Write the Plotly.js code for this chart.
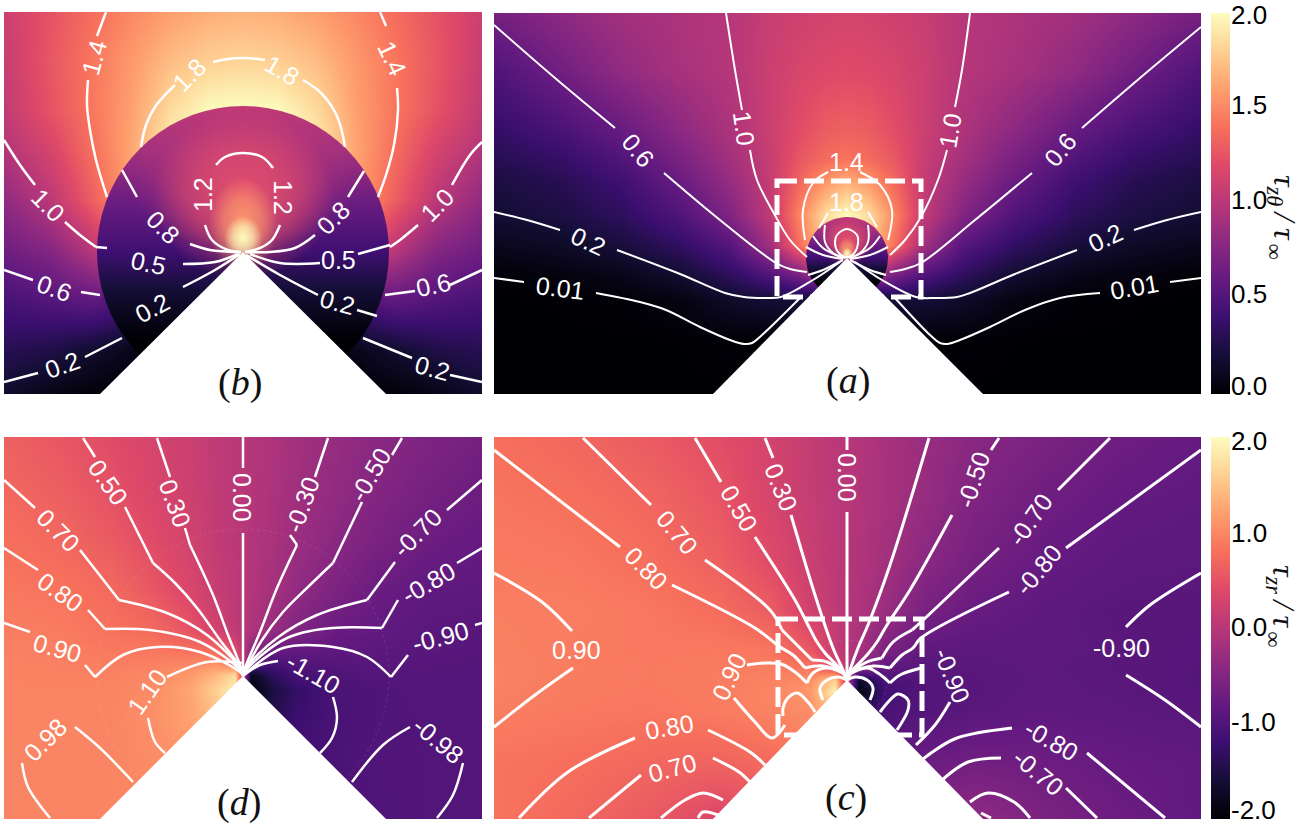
<!DOCTYPE html>
<html><head><meta charset="utf-8">
<script src="https://cdn.plot.ly/plotly-3.0.1.min.js"></script>
<style>html,body{margin:0;padding:0;background:#fff}#chart{width:1304px;height:826px}</style>
</head><body><div id="chart"></div>
<script>
/* ---------- values (positions are in reference-image coordinates) ---------- */
const magma=[[0,'#000004'],[.1,'#140e36'],[.2,'#3b0f70'],[.3,'#641a80'],[.4,'#8c2981'],[.5,'#b73779'],[.6,'#de4968'],[.7,'#f7705c'],[.8,'#fe9f6d'],[.9,'#fecf92'],[1,'#fcfdbf']];

/* panel (a) tau_z-theta field */
const aX=[494,560,620,680,730,770,800,825,847,869,894,924,964,1014,1074,1134,1201];
const aY=[13,70,130,160,180,215,245,275,300,340,394];
const aZ=[
[.68,.80,.90,.95,1.00,1.08,1.12,1.14,1.15,1.14,1.12,1.08,1.00,.95,.90,.80,.68],
[.50,.66,.82,.93,.99,1.10,1.16,1.19,1.20,1.19,1.16,1.10,.99,.93,.82,.66,.50],
[.36,.47,.61,.80,.95,1.10,1.22,1.30,1.33,1.30,1.22,1.10,.95,.80,.61,.47,.36],
[.29,.36,.50,.70,.90,1.08,1.28,1.38,1.42,1.38,1.28,1.08,.90,.70,.50,.36,.29],
[.24,.30,.42,.63,.85,1.07,1.35,1.55,1.65,1.55,1.35,1.07,.85,.63,.42,.30,.24],
[.19,.24,.33,.50,.74,1.05,1.50,1.85,2.00,1.85,1.50,1.05,.74,.50,.33,.24,.19],
[.10,.14,.22,.35,.53,.90,1.40,1.80,2.00,1.80,1.40,.90,.53,.35,.22,.14,.10],
[.01,.04,.08,.18,.33,.50,.70,1.00,2.00,1.00,.70,.50,.33,.18,.08,.04,.01],
[0,.003,.01,.05,.15,.20,.20,0,0,0,.20,.20,.15,.05,.01,.003,0],
[0,0,0,.002,.01,0,0,0,0,0,0,0,.01,.002,0,0,0],
[0,0,0,0,0,0,0,0,0,0,0,0,0,0,0,0,0]];

/* panel (b) enlarged tau_z-theta field */
const bX=[4,50,90,130,170,210,243,276,316,356,396,436,482];
const bY=[12,60,110,150,200,250,300,350,394];
const bZ=[
[1.10,1.25,1.38,1.50,1.60,1.66,1.68,1.66,1.60,1.50,1.38,1.25,1.10],
[1.08,1.27,1.42,1.57,1.72,1.80,1.82,1.80,1.72,1.57,1.42,1.27,1.08],
[1.05,1.25,1.42,1.60,1.85,2.00,2.00,2.00,1.85,1.60,1.42,1.25,1.05],
[.98,1.15,1.38,1.62,1.95,2.00,2.00,2.00,1.95,1.62,1.38,1.15,.98],
[.82,1.02,1.30,1.60,1.90,2.00,2.00,2.00,1.90,1.60,1.30,1.02,.82],
[.65,.76,1.00,1.30,1.50,1.60,1.60,1.60,1.50,1.30,1.00,.76,.65],
[.46,.52,.58,.50,.40,.30,.20,.30,.40,.50,.58,.52,.46],
[.30,.26,.18,.08,.02,0,0,0,.02,.08,.18,.26,.30],
[.17,.07,.02,0,0,0,0,0,0,0,.02,.07,.17]];

/* panel (c) tau_zr field */
const cX=[494,570,650,720,770,810,835,847,859,884,924,974,1044,1124,1201];
const cY=[437,500,560,610,650,668,680,692,710,760,819];
const cZ=[
[.79,.71,.58,.44,.28,.13,.04,0,-.04,-.13,-.28,-.44,-.58,-.71,-.79],
[.84,.80,.70,.53,.31,.14,.05,0,-.05,-.14,-.31,-.53,-.70,-.80,-.84],
[.885,.86,.78,.63,.41,.18,.06,0,-.06,-.18,-.41,-.63,-.78,-.86,-.885],
[.92,.92,.86,.76,.60,.25,.08,0,-.08,-.25,-.60,-.76,-.86,-.92,-.92],
[.94,.90,.87,.88,.85,.55,.15,0,-.15,-.55,-.85,-.88,-.87,-.90,-.94],
[.945,.91,.88,.90,.92,.85,.40,0,-.40,-.85,-.92,-.90,-.88,-.91,-.945],
[.95,.90,.88,.91,.96,1.05,1.60,0,-1.70,-1.05,-.96,-.91,-.88,-.90,-.95],
[.94,.90,.87,.91,.97,1.15,1.90,0,-1.95,-1.15,-.97,-.91,-.87,-.90,-.94],
[.92,.88,.85,.90,.97,1.05,1.50,0,-1.50,-1.05,-.97,-.90,-.85,-.88,-.92],
[.83,.79,.72,.68,.75,.90,.90,0,-.90,-.90,-.75,-.68,-.72,-.79,-.83],
[.83,.73,.57,.35,.50,.70,.70,0,-.70,-.70,-.50,-.35,-.57,-.73,-.83]];

/* panel (d) enlarged tau_zr field */
const dX=[4,60,110,150,190,215,235,243,251,271,296,336,376,426,482];
const dY=[437,490,540,590,630,660,675,690,720,760,819];
const dZ=[
[.64,.54,.42,.31,.19,.09,.03,0,-.03,-.09,-.19,-.31,-.42,-.54,-.64],
[.72,.62,.49,.35,.21,.10,.03,0,-.03,-.10,-.21,-.35,-.49,-.62,-.72],
[.79,.72,.58,.43,.26,.12,.04,0,-.04,-.12,-.26,-.43,-.58,-.72,-.79],
[.86,.83,.74,.56,.34,.16,.05,0,-.05,-.16,-.34,-.56,-.74,-.83,-.86],
[.92,.90,.81,.75,.50,.27,.08,0,-.08,-.27,-.50,-.75,-.81,-.90,-.92],
[.95,.93,.91,.92,.95,1.00,.55,0,-.55,-1.00,-.95,-.92,-.91,-.93,-.95],
[.96,.95,.95,1.00,1.15,1.40,1.70,0,-1.80,-1.36,-1.10,-1.02,-.95,-.95,-.96],
[.96,.96,.97,1.03,1.25,1.60,1.90,0,-1.95,-1.56,-1.28,-1.06,-1.00,-.96,-.96],
[.97,.975,.98,1.06,1.22,1.40,1.50,0,-1.60,-1.40,-1.20,-1.06,-1.00,-.975,-.97],
[.98,.98,.98,1.03,1.10,1.20,1.20,0,-1.20,-1.20,-1.10,-1.05,-.985,-.98,-.98],
[.98,.98,.98,1.00,1.00,1.00,1.00,0,-1.00,-1.00,-1.00,-1.00,-1.00,-.98,-.98]];

/* contour polylines, one sub-list per unbroken stretch */
const aLines=[
[[726,13],[735,70],[742,110]],[[750,150],[757,180],[776,217],[790,240],[807,257]],
[[970,13],[962,70],[955,107]],[[947,150],[938,180],[921,217],[905,240],[890,255]],
[[494,25],[555,78],[615,128]],[[664,173],[720,220],[776,263],[790,269],[807,272]],
[[1201,27],[1140,78],[1082,128]],[[1032,173],[975,220],[921,263],[905,269],[890,272]],
[[494,212],[527,220],[560,230]],[[617,250],[680,274],[725,293],[744,297],[765,298],[781,297],[813,280],[840,262]],
[[1201,212],[1167,220],[1134,230]],[[1077,250],[1015,274],[970,293],[957,297],[935,298],[916,297],[882,280],[855,262]],
[[494,278],[524,282]],[[596,293],[640,302],[666,310],[700,327],[730,340],[744,344],[752,343],[762,335],[800,298]],
[[1201,278],[1170,282]],[[1100,293],[1060,298],[1025,310],[990,327],[960,340],[947,344],[940,343],[930,335],[895,298]],
[[805,240],[803,210],[813,183],[828,172]],[[860,172],[880,185],[892,210],[888,240]],
[[819,228],[828,213]],[[868,212],[877,227]],
[[847,257],[838,252],[835,243],[837,235],[847,229],[857,235],[858,243],[855,252],[847,257]],
[[825,225],[825,242],[833,253],[845,258]],[[868,225],[868,242],[860,253],[849,258]],
[[813,236],[823,248],[843,258]],[[880,236],[870,248],[850,258]],
[[806,247],[823,255],[843,259]],[[888,247],[870,255],[850,259]],
[[808,275],[823,270],[843,260]],[[886,275],[870,270],[850,260]]];
const bLines=[
[[106,12],[97,36]],[[88,80],[87,105],[90,130],[96,160],[107,197]],
[[380,12],[386,26]],[[397,88],[398,110],[394,145],[386,175],[378,197]],
[[141,147],[146,125],[155,107],[165,95],[175,85]],[[213,62],[228,59],[243,58],[258,59],[265,60]],[[303,80],[320,92],[335,112],[341,128],[345,147]],
[[4,140],[20,165],[35,185]],[[65,222],[80,235],[96,247]],
[[482,142],[470,155],[452,185]],[[418,225],[400,240],[390,247]],
[[4,270],[33,280]],[[81,292],[100,295]],[[385,295],[415,291]],[[450,285],[482,270]],
[[4,382],[38,373]],[[85,357],[122,338]],[[363,338],[412,358]],[[450,375],[482,382]],
[[122,170],[137,197]],[[190,244],[210,250],[240,252]],
[[364,171],[348,197]],[[315,235],[295,248],[270,252],[246,252]],
[[216,165],[225,157],[243,153],[262,157],[273,168]],
[[205,225],[212,240],[228,250],[241,252]],[[245,252],[260,248],[272,240],[280,225]],
[[183,264],[215,262],[238,254]],[[320,263],[280,263],[250,254]],[[358,254],[390,245]],[[96,247],[107,248]],
[[183,287],[215,270],[240,254]],[[318,295],[280,275],[246,255]],[[357,310],[377,316]]];
const cLines=[
[[847,437],[847,450]],[[847,512],[847,672]],
[[765,438],[773,458]],[[791,515],[815,595],[833,648],[843,670]],
[[695,438],[721,482]],[[755,537],[795,600],[808,625],[817,642],[825,653],[843,672]],
[[583,438],[651,505]],[[705,560],[770,610],[782,630]],[[782,630],[812,660]],[[812,660],[827,662],[843,673]],
[[494,450],[620,547]],[[672,585],[755,628],[780,647],[793,655],[805,668]],[[805,668],[823,666],[843,673]],
[[494,573],[542,602],[572,631]],[[573,668],[535,695],[494,727]],
[[747,665],[765,663],[781,664],[795,672],[807,683]],[[807,683],[813,673],[827,668],[845,675]],[[734,698],[755,722],[772,738],[785,725]],
[[519,818],[568,772],[635,738]],[[708,730],[750,752],[765,765]],
[[589,818],[641,775]],[[713,758],[739,772],[750,782]],
[[661,818],[685,800],[703,793],[723,800]],[[698,818],[703,812],[718,815]],
[[783,716],[783,708],[787,699],[797,693],[808,702],[815,712]],
[[823,700],[820,688],[827,680],[838,677]],
[[929,438],[890,565],[868,625],[858,648],[850,670]],
[[999,438],[991,450]],[[952,515],[910,590],[887,625],[877,642],[867,655],[851,672]],
[[1110,438],[1058,490]],[[999,548],[921,622],[912,630]],[[912,630],[893,642],[882,658]],[[882,658],[867,662],[851,673]],
[[1201,450],[1066,548]],[[1009,592],[921,638],[913,648],[902,655],[890,668]],[[890,668],[873,666],[851,673]],
[[1201,573],[1150,605],[1126,627]],[[1126,675],[1165,700],[1201,727]],
[[921,668],[900,675],[890,683]],[[890,683],[878,673],[867,668],[849,675]],[[950,702],[935,725],[916,745]],
[[1165,818],[1087,753]],[[1012,728],[957,738],[931,753],[916,765]],
[[1097,818],[1066,788]],[[1001,758],[968,762],[942,780]],
[[1030,818],[1014,802],[988,793],[970,802]],[[981,813],[991,818]],
[[880,712],[890,700],[898,694],[908,700],[908,710],[897,730]],
[[870,700],[873,688],[867,680],[855,677]]];
const dLines=[
[[243,437],[243,468]],[[243,533],[243,672]],
[[157,438],[170,477]],[[185,528],[190,545]],[[190,545],[213,595],[228,635],[240,665]],
[[83,438],[95,457]],[[125,507],[153,563]],[[153,563],[175,583],[197,608],[220,640],[240,667]],
[[4,480],[35,508]],[[80,550],[119,600]],[[119,600],[167,613],[207,635],[240,668]],
[[4,548],[38,570]],[[88,610],[105,629]],[[105,629],[150,630],[200,642],[240,670]],
[[4,623],[30,632]],[[85,665],[95,677]],[[95,677],[123,655],[157,647],[200,652],[240,672]],
[[242,663],[207,662],[167,677]],[[148,718],[155,742],[165,753]],
[[75,727],[100,748],[133,782]],[[22,763],[28,787],[50,818]],
[[328,438],[315,477]],[[290,535],[297,545]],[[297,545],[277,588],[260,632],[245,668]],
[[402,438],[392,455]],[[362,502],[333,563]],[[333,563],[310,585],[283,612],[262,640],[247,667]],
[[482,480],[447,510]],[[395,562],[367,600]],[[367,600],[317,615],[277,638],[246,668]],
[[482,548],[457,563]],[[398,600],[382,628]],[[382,628],[333,628],[287,638],[246,670]],
[[482,623],[475,625]],[[408,655],[391,677]],[[391,677],[367,657],[333,647],[283,648],[247,672]],
[[278,661],[260,665],[247,673]],[[333,697],[337,718],[332,738],[320,753]],
[[352,782],[383,745],[410,727]],[[463,763],[453,795],[437,818]]];

/* contour labels: text, centre position, rotation */
const aLabelText=['1.0','1.0','0.6','0.6','0.2','0.2','0.01','0.01','1.4','1.8','(<i>a</i>)'];
const aLabelX=[744,950,638,1060,588,1105,560,1134,846,846,848];
const aLabelY=[128,131,150,150,241,238,288,287,162,202,380];
const aLabelAngle=[82,-80,50,-50,25,-25,7,-10,0,0,0];
const bLabelText=['1.4','1.4','1.8','1.8','1.0','1.0','0.6','0.6','0.2','0.2','1.2','1.2','0.8','0.8','0.5','0.5','0.2','0.2','(<i>b</i>)'];
const bLabelX=[94,392,189,282,48,437,54,433,62,432,203,283,163,333,148,338,152,337,240];
const bLabelY=[58,58,75,70,205,205,288,285,365,368,195,197,227,218,263,260,308,302,382];
const bLabelAngle=[-75,65,-45,30,45,-45,20,-12,-20,15,-90,90,45,-45,12,0,-28,15,0];
const cLabelText=['0.30','0.00','-0.50','0.50','0.70','0.80','0.90','0.90','0.80','0.70','-0.70','-0.80','-0.90','-0.90','-0.80','-0.70','(<i>c</i>)'];
const cLabelX=[781,847,973,739,677,646,576,729,669,672,1030,1038,1121,952,1051,1038,846];
const cLabelY=[487,477,480,508,532,568,650,677,727,768,520,570,648,675,740,772,797];
const cLabelAngle=[68,90,-72,60,50,45,0,-65,-10,-15,-55,-50,0,68,30,40,0];
const dLabelText=['0.00','0.30','0.50','0.70','0.80','0.90','1.10','0.98','-0.30','-0.50','-0.70','-0.80','-0.90','-1.10','-0.98','(<i>d</i>)'];
const dLabelX=[242,175,108,58,60,57,147,45,302,370,417,428,440,313,438,239];
const dLabelY=[497,503,482,530,592,648,692,740,505,475,533,583,637,673,740,802];
const dLabelAngle=[90,70,55,45,35,15,-55,-45,-70,-60,-45,-30,-15,30,40,0];

/* colour bars */
const topBarTicks=[0,.5,1,1.5,2];
const topBarText=['0.0','0.5','1.0','1.5','2.0'];
const topBarTextY=[386,294,200,105,15];
const botBarTicks=[-2,-1,0,1,2];
const botBarText=['-2.0','-1.0','0.0','1.0','2.0'];
const botBarTextY=[810,722,627,533,441];

/* ---------- building the figure ---------- */
const W=1304,H=826;
const panels={
  b:{ax:'',  l:4,  r:482, t:12,  b:394},
  a:{ax:'2', l:494,r:1201,t:13,  b:394},
  d:{ax:'3', l:4,  r:482, t:437, b:819},
  c:{ax:'4', l:494,r:1201,t:437, b:819}};
const layout={width:W,height:H,margin:{l:0,r:0,t:0,b:0,autoexpand:false},paper_bgcolor:'#fff',plot_bgcolor:'#fff',
  showlegend:false,shapes:[],annotations:[]};
for(const k in panels){const p=panels[k];
  layout['xaxis'+p.ax]={domain:[p.l/W,p.r/W],range:[p.l,p.r],visible:false,fixedrange:true,anchor:'y'+p.ax};
  layout['yaxis'+p.ax]={domain:[1-p.b/H,1-p.t/H],range:[p.b,p.t],visible:false,fixedrange:true,anchor:'x'+p.ax};
}
const traces=[];
function hm(key,x,y,z,zmin,zmax,bar){const p=panels[key];
  const t={type:'heatmap',x,y,z,zmin,zmax,zsmooth:'best',colorscale:magma,xaxis:'x'+p.ax,yaxis:'y'+p.ax,hoverinfo:'skip',showscale:!!bar};
  if(bar)t.colorbar={x:1211/W,xanchor:'left',xref:'paper',thickness:19,thicknessmode:'pixels',len:(p.b-p.t)/H,lenmode:'fraction',
    y:1-p.b/H,yanchor:'bottom',yref:'paper',ypad:0,xpad:0,outlinewidth:0,ticks:'',tickmode:'array',tickvals:bar.v,ticktext:bar.t,showticklabels:false};
  traces.push(t);}
function barLabels(T,Y){T.forEach((t,i)=>layout.annotations.push({xref:'paper',yref:'paper',x:1231/W,y:1-Y[i]/H,text:t,showarrow:false,xanchor:'left',yanchor:'middle',xshift:-1,
  font:{family:'Liberation Sans',size:26,color:'#000'},borderpad:0}));}
function oval(cx,cy,rx,ry){const x=[],y=[];for(let i=0;i<=72;i++){const a=i*Math.PI/36;x.push(cx+rx*Math.cos(a));y.push(cy+ry*Math.sin(a));}return{x,y};}
function fillOval(key,o,grad){const p=panels[key];
  traces.push({type:'scatter',mode:'lines',x:o.x,y:o.y,fill:'toself',line:{width:0,color:'rgba(0,0,0,0)'},fillgradient:grad,xaxis:'x'+p.ax,yaxis:'y'+p.ax,hoverinfo:'skip'});}
function glow(key,cx,cy,rx,ry,rgb,a){fillOval(key,oval(cx,cy,rx,ry),{type:'radial',colorscale:[[0,`rgba(${rgb},${a})`],[.55,`rgba(${rgb},${a*.6})`],[1,`rgba(${rgb},0)`]]});}
function inset(key,cx,cy,r){
  const s=v=>cy+(v-252)*r/146;
  fillOval(key,oval(cx,cy,r,r),{type:'vertical',start:s(106),stop:s(398),colorscale:[[0,'#c03a76'],[.15,'#a5317d'],[.32,'#6d1d81'],[.5,'#3f0f72'],[.63,'#140e36'],[.8,'#000004'],[1,'#000004']]});
  glow(key,cx,s(182),r*.78,r*.47,'190,58,118',.8);
  glow(key,cx,s(195),r*.62,r*.58,'230,80,106',.95);
  glow(key,cx,s(225),r*.24,r*.32,'254,159,109',.95);
  glow(key,cx,s(238),r*.13,r*.15,'252,253,191',1);
}
function lines(key,list,w,apex){const p=panels[key];const x=[],y=[];
  list.forEach(seg=>{seg.forEach(q=>{x.push(q[0]);y.push(q[1]);});
    const e=seg[seg.length-1];
    if(apex&&Math.hypot(e[0]-apex[0],e[1]-apex[1])<13){x.push(apex[0]);y.push(apex[1]);}
    x.push(null);y.push(null);});
  traces.push({type:'scatter',mode:'lines',x,y,line:{color:'#fff',width:w,shape:'spline',smoothing:1},connectgaps:false,xaxis:'x'+p.ax,yaxis:'y'+p.ax,hoverinfo:'skip'});}
function labels(key,T,X,Y,A,size){const p=panels[key];
  T.forEach((t,i)=>{const tag=t.startsWith('(');
    layout.annotations.push({xref:'x'+p.ax,yref:'y'+p.ax,x:X[i],y:Y[i],text:t,textangle:A[i],showarrow:false,xanchor:'center',yanchor:'middle',
      font:tag?{family:'Liberation Serif',size:38,color:'#111'}:{family:'Liberation Sans',size:size,color:'#fff'}});});}
function tri(key,xl,xa,ya,xr,yb){const p=panels[key];
  layout.shapes.push({type:'path',xref:'x'+p.ax,yref:'y'+p.ax,path:`M${xl},${yb} L${xa},${ya} L${xr},${yb} Z`,fillcolor:'#fff',line:{width:0},layer:'above'});}
function box(key,x0,y0,x1,y1){const p=panels[key];
  layout.shapes.push({type:'rect',xref:'x'+p.ax,yref:'y'+p.ax,x0,y0,x1,y1,line:{color:'#fff',width:5,dash:'20px,7px'},layer:'above'});}
function ring(key,cx,cy,r){const p=panels[key];
  layout.shapes.push({type:'circle',xref:'x'+p.ax,yref:'y'+p.ax,x0:cx-r,x1:cx+r,y0:cy-r,y1:cy+r,line:{color:'rgba(255,255,255,.10)',width:1,dash:'dot'},layer:'above'});}

hm('b',bX,bY,bZ,0,2); inset('b',243,252,146); lines('b',bLines,2.5); labels('b',bLabelText,bLabelX,bLabelY,bLabelAngle,25);
hm('a',aX,aY,aZ,0,2,{v:topBarTicks,t:topBarText}); inset('a',847,258,41); lines('a',aLines,2); labels('a',aLabelText,aLabelX,aLabelY,aLabelAngle,25);
hm('d',dX,dY,dZ,-2,2); ring('d',243,675,146); lines('d',dLines,2.5,[243,676]); labels('d',dLabelText,dLabelX,dLabelY,dLabelAngle,25);
hm('c',cX,cY,cZ,-2,2,{v:botBarTicks,t:botBarText}); ring('c',847,680,40); lines('c',cLines,3,[847,680]); labels('c',cLabelText,cLabelX,cLabelY,cLabelAngle,25);
tri('b',100,243,252,386,394); tri('a',713,847,258,983,394); tri('d',100,243,676,386,819); tri('c',713,847,680,983,819);
box('a',777,181,921,297); box('c',778,619,922,735);
barLabels(topBarText,topBarTextY); barLabels(botBarText,botBarTextY);

function barTitle(y,sub){layout.annotations.push({xref:'paper',yref:'paper',x:1282/W,y:1-y/H,
  text:`<i>τ</i><sub><i>${sub}</i></sub>\u2009<span style="font-size:32px"><i>/</i></span>\u2009<i>τ</i><sub>\u2009∞</sub>`,textangle:90,showarrow:false,xanchor:'center',yanchor:'middle',
  font:{family:'Liberation Serif',size:32,color:'#111'}});}
barTitle(217,'zθ'); barTitle(606,'zr');

Plotly.newPlot('chart',traces,layout,{displayModeBar:false,staticPlot:true});
</script></body></html>
